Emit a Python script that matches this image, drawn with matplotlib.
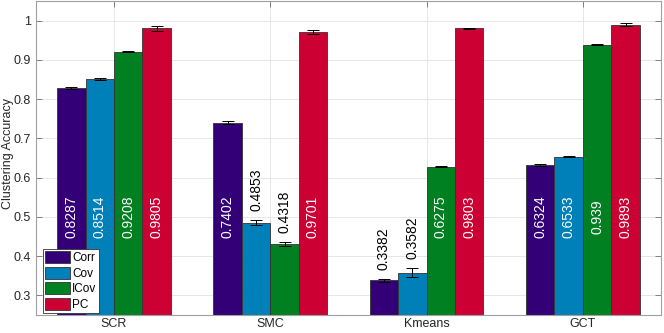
import matplotlib
matplotlib.use("Agg")
import matplotlib.pyplot as plt
import numpy as np

plt.rcParams['font.family'] = ['Liberation Sans', 'DejaVu Sans']

categories = ["SCR", "SMC", "Kmeans", "GCT"]
series = ["Corr", "Cov", "ICov", "PC"]
values = {
    "Corr": [0.8287, 0.7402, 0.3382, 0.6324],
    "Cov":  [0.8514, 0.4853, 0.3582, 0.6533],
    "ICov": [0.9208, 0.4318, 0.6275, 0.939],
    "PC":   [0.9805, 0.9701, 0.9803, 0.9893],
}
errors = {
    "Corr": [0.002, 0.004, 0.004, 0.003],
    "Cov":  [0.002, 0.006, 0.011, 0.001],
    "ICov": [0.002, 0.005, 0.001, 0.002],
    "PC":   [0.007, 0.005, 0.001, 0.004],
}
labels = {
    "Corr": ["0.8287", "0.7402", "0.3382", "0.6324"],
    "Cov":  ["0.8514", "0.4853", "0.3582", "0.6533"],
    "ICov": ["0.9208", "0.4318", "0.6275", "0.939"],
    "PC":   ["0.9805", "0.9701", "0.9803", "0.9893"],
}
colors = {"Corr": "#330078", "Cov": "#0080b8", "ICov": "#008020", "PC": "#cc0033"}
y_ticks = [0.3, 0.4, 0.5, 0.6, 0.7, 0.8, 0.9, 1.0]
y_ticklabels = ["0.3", "0.4", "0.5", "0.6", "0.7", "0.8", "0.9", "1"]

fig = plt.figure(figsize=(6.64, 3.33), dpi=100)
ax = fig.add_axes([0.054, 0.054, 0.9415, 0.943])

x = np.arange(1, len(categories) + 1)
w = 0.182
for i, s in enumerate(series):
    xs = x + (i - 1.5) * w
    ax.bar(xs, values[s], width=w, color=colors[s], edgecolor="#333333",
           linewidth=0.6, label=s, zorder=2)
    ax.errorbar(xs, values[s], yerr=errors[s], fmt="none", ecolor="black",
                elinewidth=0.7, capsize=4, capthick=0.7, zorder=3)
    for j, (xv, v, e, t) in enumerate(zip(xs, values[s], errors[s], labels[s])):
        if v > 0.55:
            ax.text(xv, 0.5, t, rotation=90, ha="center", va="center",
                    color="white", fontsize=10, zorder=4)
        else:
            ax.annotate(t, (xv, v + e), xytext=(0, 6.5), textcoords="offset points",
                        rotation=90, ha="center", va="bottom", color="black",
                        fontsize=10, zorder=4)

ax.set_xlim(0.5, 4.5)
ax.set_ylim(0.25, 1.05)
ax.set_xticks(x)
ax.set_xticklabels(categories, fontsize=9, color="#262626")
ax.set_yticks(y_ticks)
ax.set_yticklabels(y_ticklabels, fontsize=9, color="#262626")
fig.text(0.003, 0.54, "Clustering Accuracy", rotation=90, ha="left", va="center",
         fontsize=9, color="#262626")
ax.grid(True, color="#e6e6e6", linewidth=0.7, zorder=0)
ax.set_axisbelow(True)
ax.tick_params(direction="in", top=True, right=True, color="#808080", length=4, width=0.7)
ax.tick_params(axis="x", pad=2.5)
for sp in ax.spines.values():
    sp.set_color("#a0a0a0")
    sp.set_linewidth(0.8)

leg = ax.legend(loc="lower left", bbox_to_anchor=(0.009, 0.002), fontsize=8.5,
                handlelength=2.1, handleheight=1.2, handletextpad=0.2,
                labelspacing=0.22, borderpad=0.2, borderaxespad=0.1,
                fancybox=False, framealpha=1, edgecolor="#333333")
leg.get_frame().set_linewidth(0.6)

fig.savefig("out.png", dpi=100)
